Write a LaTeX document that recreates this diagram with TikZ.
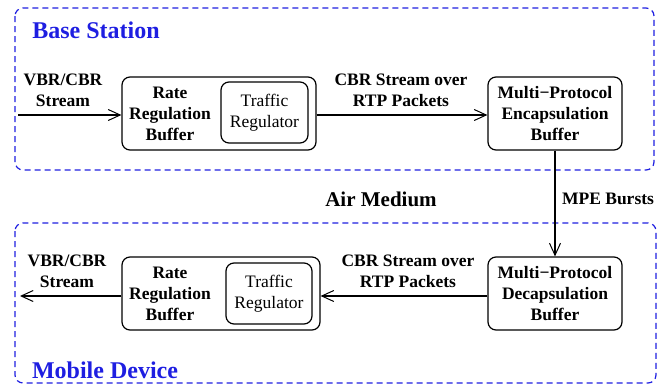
\documentclass[tikz,border=0pt]{standalone}
\usepackage{fontspec}
\setmainfont{LiberationSerif}[Extension=.ttf, UprightFont=*-Regular, BoldFont=*-Bold, ItalicFont=*-Italic, BoldItalicFont=*-BoldItalic]
\usetikzlibrary{arrows.meta}
\definecolor{dblue}{RGB}{30,30,225}
\tikzset{
  region/.style={draw=dblue, line width=1.2pt, dash pattern=on 6pt off 4pt, rounded corners=8pt},
  heading/.style={text=dblue, font=\fontsize{24}{28}\selectfont\bfseries, inner sep=0pt},
  lbl/.style={font=\fontsize{17.5}{21}\selectfont\bfseries, align=center, inner sep=0pt},
  biglbl/.style={font=\fontsize{21}{25}\selectfont\bfseries, inner sep=0pt},
  blk/.style={draw, line width=1.2pt, rounded corners=8pt},
  inner/.style={draw, line width=1.2pt, rounded corners=8pt, font=\fontsize{17.5}{21}\selectfont, align=center},
  flow/.style={line width=1.3pt, -{Straight Barb[length=12pt,width=11pt,line width=1pt]}}
}
\begin{document}
\begin{tikzpicture}[x=1pt,y=-1pt]
\useasboundingbox (0,0) rectangle (669,388);
% regions
\draw[region] (15,8) rectangle (654,170);
\draw[region] (15,223) rectangle (656,383);
\node[heading] (bs) at (96,30) {Base Station};
\node[heading] (md) at (105,370) {Mobile Device};
% top row
\node[blk, minimum width=194pt, minimum height=73pt] (rrbT) at (219,113.5) {};
\node[lbl] (rrbTt) at (170,113.5) {Rate\\Regulation\\Buffer};
\node[inner, minimum width=87pt, minimum height=61pt, inner sep=0pt] (trT) at (264.5,112.5) {Traffic\\Regulator};
\node[blk, lbl, minimum width=134pt, minimum height=73pt] (mpe) at (555,113.5) {Multi−Protocol\\Encapsulation\\Buffer};
\coordinate (inT) at (18,115);
\node[lbl] (vbrT) at (63,90) {VBR/CBR\\Stream};
\node[lbl] (cbrT) at (401,90) {CBR Stream over\\RTP Packets};
\draw[flow] (inT) -- (inT -| rrbT.west);
\draw[flow] (rrbT.east |- inT) -- (mpe.west |- inT);
% middle
\node[biglbl] (air) at (381,199) {Air Medium};
\node[lbl] (mpeb) at (608,199) {MPE Bursts};
% bottom row
\node[blk, minimum width=198pt, minimum height=73pt] (rrbB) at (221,293.5) {};
\node[lbl] (rrbBt) at (170,293.5) {Rate\\Regulation\\Buffer};
\node[inner, minimum width=86pt, minimum height=61pt, inner sep=0pt] (trB) at (269,293.5) {Traffic\\Regulator};
\node[blk, lbl, minimum width=134pt, minimum height=73pt] (mpd) at (555,293.5) {Multi−Protocol\\Decapsulation\\Buffer};
\coordinate (outB) at (20,296);
\node[lbl] (vbrB) at (67,271) {VBR/CBR\\Stream};
\node[lbl] (cbrB) at (408,271) {CBR Stream over\\RTP Packets};
\draw[flow] (mpe.south) -- (mpd.north);
\draw[flow] (mpd.west |- outB) -- (rrbB.east |- outB);
\draw[flow] (rrbB.west |- outB) -- (outB);
\end{tikzpicture}
\end{document}
